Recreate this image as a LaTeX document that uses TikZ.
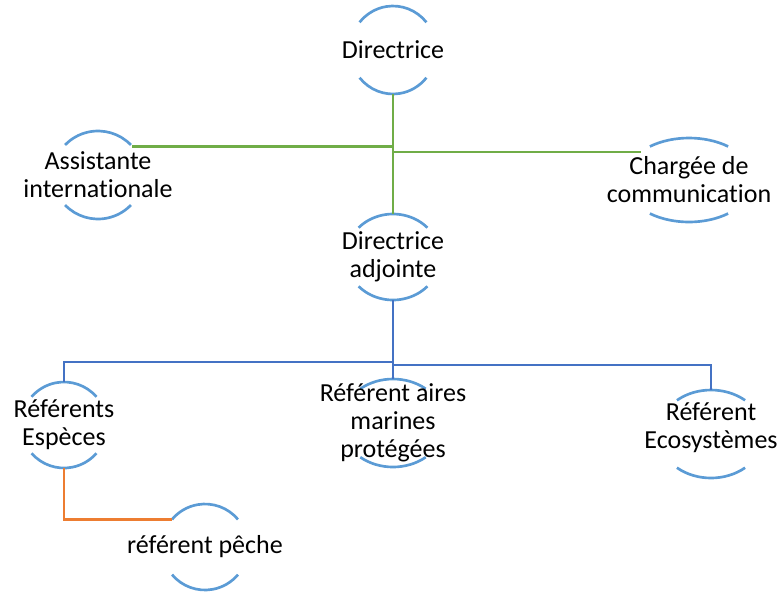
\documentclass[tikz,border=0pt]{standalone}
\usepackage{fontspec}
\setmainfont{Carlito}[Ligatures=NoCommon]
\usetikzlibrary{shapes.geometric}

\definecolor{ringblue}{RGB}{91,155,213}
\definecolor{linegreen}{RGB}{112,173,71}
\definecolor{lineblue}{RGB}{68,114,196}
\definecolor{lineorange}{RGB}{237,125,49}

\tikzset{every picture/.style={line width=0.75pt}}
\tikzset{
	ring/.style 2 args={ellipse, draw=none, inner sep=0pt, outer sep=0pt, minimum width=#1*1.5pt, minimum height=#2*1.5pt},
	lbl/.style={font=\fontsize{19.5}{21}\selectfont, align=center, inner sep=0.75pt},
	ringline/.style={color=ringblue, line width=2pt},
	greenline/.style={color=linegreen, line width=1.9pt},
	blueline/.style={color=lineblue, line width=1.9pt},
	orangeline/.style={color=lineorange, line width=1.9pt}
}

\begin{document}
\begin{tikzpicture}[x=0.75pt,y=0.75pt,yscale=-1,xscale=1]
	\useasboundingbox (0,0) rectangle (780,594);
	
	% Rings
	\node[ring={43}{44}] (dir) at (393,50) {};
	\node[ring={45}{44}] (asst) at (98,175) {};
	\node[ring={65}{42}] (chg) at (689,180) {};
	\node[ring={47}{43}] (adj) at (393,257) {};
	\node[ring={43}{43}] (esp) at (64,425) {};
	\node[ring={52}{44}] (ma) at (393,423) {};
	\node[ring={53}{44}] (eco) at (711,434) {};
	\node[ring={43}{43}] (pec) at (205,547) {};
	
	% top and bottom arcs of each ring
	\foreach \n/\a/\b/\t in {dir/43/44/39, asst/45/44/43, chg/65/42/53, adj/47/43/43, esp/43/43/41, ma/52/44/51, eco/53/44/50, pec/43/43/40} {
		\draw[ringline] (\n.center) ++({-\t}:{\a} and {\b}) arc[start angle=-\t, end angle=\t-180, x radius=\a, y radius=\b];
		\draw[ringline] (\n.center) ++({180-\t}:{\a} and {\b}) arc[start angle=180-\t, end angle=\t, x radius=\a, y radius=\b];
	}
	
	% Connectors
	\draw[greenline] (dir.south) -- (adj.north);
	\draw[greenline] (asst.40) -- (asst.40 -| dir.south);
	\draw[greenline] (dir.south |- chg.150) -- (chg.150);
	\draw[blueline] (adj.south) -- (ma.north);
	\draw[blueline] (adj.south) -- ++(0,62) -| (esp.north);
	\draw[blueline] (adj.south) -- ++(0,65) -| (eco.north);
	\draw[orangeline] (esp.south) |- (pec.140);
	
	% Text Node
	\node[lbl] (dir-t) at (dir) {Directrice};
	% Text Node
	\node[lbl] (asst-t) at (asst) {Assistante\\internationale};
	% Text Node
	\node[lbl] (chg-t) at (chg) {Chargée de\\communication};
	% Text Node
	\node[lbl] (adj-t) at (adj) {Directrice\\adjointe};
	% Text Node
	\node[lbl] (esp-t) at (esp) {Référents\\Espèces};
	% Text Node
	\node[lbl] (ma-t) at (ma) {Référent aires\\marines\\protégées};
	% Text Node
	\node[lbl] (eco-t) at (711,428) {Référent\\Ecosystèmes};
	% Text Node
	\node[lbl] (pec-t) at (pec) {référent pêche};
	
\end{tikzpicture}
\end{document}
